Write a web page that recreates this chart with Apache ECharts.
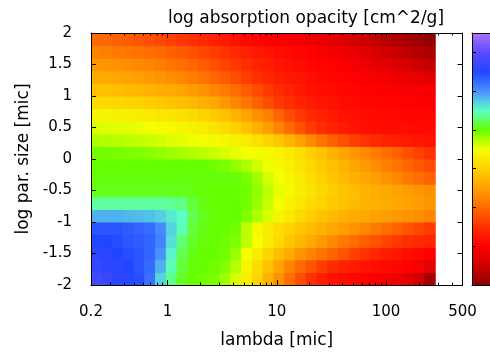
<!DOCTYPE html>
<html><head><meta charset="utf-8">
<script src="https://cdn.jsdelivr.net/npm/echarts@6/dist/echarts.min.js"></script>
<style>html,body{margin:0;padding:0;background:#fff}#c{width:490px;height:354px}</style>
</head><body><div id="c"></div>
<script>
// wavelength bin edges [mic] (log-spaced model grid)
const lambdaEdges = [0.2, 0.2508, 0.3146, 0.3946, 0.4949, 0.6207, 0.7785, 0.9765, 1.2246, 1.536, 1.9264, 2.416, 3.03, 3.8, 4.766, 5.978, 7.5, 9.408, 11.8, 14.8, 18.56, 23.28, 29.2, 36.62, 45.93, 57.61, 72.25, 90.63, 113.7, 142.6, 178.8, 224.3, 281.3];
// log particle size bin edges [mic]
const sizeEdges = [-2, -1.8, -1.6, -1.4, -1.2, -1, -0.8, -0.6, -0.4, -0.2, 0, 0.2, 0.4, 0.6, 0.8, 1, 1.2, 1.4, 1.6, 1.8, 2];
// log absorption opacity [cm^2/g], rows from smallest to largest size
const opacity = [
  [4.8, 4.7, 4.6, 4.55, 4.45, 4.2, 3.7, 3.35, 3.1, 3.0, 2.97, 2.93, 2.8, 2.6, 2.35, 2.05, 1.7, 1.35, 1.05, 0.75, 0.5, 0.32, 0.2, 0.12, 0.06, 0.02, -0.03, -0.1, -0.18, -0.3, -0.5, -0.8],
  [4.65, 4.6, 4.55, 4.5, 4.4, 4.25, 3.85, 3.45, 3.15, 3.02, 3.0, 2.97, 2.9, 2.72, 2.4, 2.15, 1.85, 1.55, 1.25, 1.0, 0.8, 0.6, 0.45, 0.35, 0.27, 0.2, 0.15, 0.1, 0.05, 0.0, -0.1, -0.3],
  [4.6, 4.55, 4.5, 4.45, 4.4, 4.3, 4.0, 3.55, 3.2, 3.05, 3.0, 3.0, 2.95, 2.82, 2.5, 2.3, 2.05, 1.8, 1.6, 1.4, 1.25, 1.1, 0.95, 0.8, 0.65, 0.52, 0.4, 0.3, 0.22, 0.15, 0.08, 0.0],
  [4.5, 4.5, 4.45, 4.4, 4.35, 4.3, 4.1, 3.65, 3.3, 3.1, 3.02, 3.0, 2.97, 2.92, 2.7, 2.5, 2.3, 2.1, 1.9, 1.75, 1.6, 1.45, 1.3, 1.15, 1.02, 0.9, 0.8, 0.68, 0.58, 0.5, 0.45, 0.4],
  [4.4, 4.4, 4.4, 4.35, 4.3, 4.25, 4.05, 3.7, 3.45, 3.15, 3.05, 3.0, 3.0, 2.95, 2.7, 2.45, 2.3, 2.15, 2.02, 1.9, 1.78, 1.68, 1.57, 1.48, 1.38, 1.27, 1.15, 1.05, 0.93, 0.8, 0.7, 0.6],
  [3.85, 3.85, 3.85, 3.82, 3.8, 3.78, 3.72, 3.6, 3.5, 3.2, 3.07, 3.02, 3.0, 3.0, 2.92, 2.75, 2.6, 2.4, 2.25, 2.1, 1.97, 1.87, 1.78, 1.7, 1.64, 1.58, 1.52, 1.48, 1.43, 1.38, 1.32, 1.25],
  [3.4, 3.4, 3.4, 3.4, 3.4, 3.4, 3.4, 3.37, 3.32, 3.15, 3.05, 3.0, 3.0, 3.0, 2.95, 2.82, 2.67, 2.5, 2.37, 2.25, 2.13, 2.02, 1.93, 1.85, 1.78, 1.72, 1.67, 1.62, 1.57, 1.52, 1.47, 1.42],
  [3.07, 3.07, 3.07, 3.07, 3.07, 3.07, 3.07, 3.07, 3.07, 3.05, 3.02, 3.0, 3.0, 3.0, 2.97, 2.85, 2.7, 2.55, 2.45, 2.32, 2.2, 2.08, 1.98, 1.88, 1.8, 1.72, 1.65, 1.58, 1.52, 1.46, 1.4, 1.35],
  [3.03, 3.03, 3.03, 3.03, 3.03, 3.03, 3.03, 3.03, 3.03, 3.03, 3.03, 3.03, 3.03, 3.02, 2.93, 2.8, 2.62, 2.5, 2.4, 2.28, 2.15, 2.02, 1.9, 1.78, 1.68, 1.58, 1.48, 1.38, 1.27, 1.16, 1.05, 0.95],
  [3.0, 3.0, 3.0, 3.0, 3.0, 3.0, 3.0, 3.0, 3.0, 3.0, 3.0, 2.97, 2.93, 2.85, 2.75, 2.62, 2.52, 2.45, 2.35, 2.22, 2.08, 1.95, 1.83, 1.7, 1.57, 1.45, 1.32, 1.2, 1.08, 0.96, 0.85, 0.75],
  [2.95, 2.95, 2.94, 2.92, 2.9, 2.87, 2.84, 2.8, 2.77, 2.73, 2.7, 2.65, 2.6, 2.55, 2.5, 2.47, 2.43, 2.38, 2.28, 2.15, 2.0, 1.85, 1.7, 1.55, 1.42, 1.3, 1.17, 1.05, 0.92, 0.78, 0.65, 0.52],
  [2.75, 2.73, 2.72, 2.7, 2.68, 2.65, 2.62, 2.58, 2.55, 2.52, 2.48, 2.45, 2.4, 2.35, 2.28, 2.18, 2.05, 1.9, 1.72, 1.52, 1.3, 1.1, 0.92, 0.77, 0.63, 0.52, 0.43, 0.36, 0.3, 0.26, 0.23, 0.2],
  [2.6, 2.58, 2.57, 2.55, 2.53, 2.5, 2.47, 2.43, 2.4, 2.35, 2.3, 2.22, 2.12, 2.0, 1.85, 1.68, 1.48, 1.25, 1.0, 0.8, 0.6, 0.45, 0.35, 0.28, 0.22, 0.18, 0.15, 0.13, 0.12, 0.11, 0.1, 0.1],
  [2.4, 2.38, 2.36, 2.34, 2.32, 2.3, 2.26, 2.22, 2.17, 2.12, 2.05, 1.95, 1.85, 1.72, 1.55, 1.35, 1.2, 0.95, 0.75, 0.58, 0.45, 0.35, 0.27, 0.21, 0.17, 0.13, 0.1, 0.08, 0.07, 0.06, 0.05, 0.05],
  [2.12, 2.1, 2.07, 2.04, 2.01, 1.97, 1.93, 1.88, 1.82, 1.75, 1.68, 1.58, 1.42, 1.25, 1.1, 0.92, 0.75, 0.58, 0.47, 0.37, 0.29, 0.22, 0.17, 0.13, 0.1, 0.07, 0.05, 0.03, 0.02, 0.01, 0.0, 0.0],
  [1.85, 1.83, 1.8, 1.77, 1.74, 1.7, 1.65, 1.6, 1.53, 1.45, 1.37, 1.27, 1.15, 1.02, 0.88, 0.73, 0.58, 0.45, 0.35, 0.27, 0.2, 0.15, 0.11, 0.07, 0.04, 0.01, -0.02, -0.04, -0.06, -0.08, -0.1, -0.12],
  [1.62, 1.6, 1.57, 1.54, 1.5, 1.45, 1.4, 1.34, 1.27, 1.18, 1.08, 0.97, 0.86, 0.74, 0.62, 0.5, 0.4, 0.32, 0.25, 0.19, 0.14, 0.1, 0.06, 0.03, 0.0, -0.04, -0.08, -0.12, -0.17, -0.22, -0.27, -0.32],
  [1.42, 1.4, 1.37, 1.33, 1.29, 1.24, 1.18, 1.12, 1.04, 0.96, 0.87, 0.77, 0.67, 0.57, 0.47, 0.38, 0.3, 0.23, 0.17, 0.12, 0.07, 0.03, -0.01, -0.06, -0.11, -0.17, -0.24, -0.31, -0.38, -0.45, -0.52, -0.58],
  [1.22, 1.19, 1.16, 1.12, 1.08, 1.03, 0.98, 0.92, 0.85, 0.77, 0.69, 0.6, 0.51, 0.42, 0.34, 0.26, 0.2, 0.14, 0.09, 0.04, -0.01, -0.06, -0.12, -0.18, -0.25, -0.32, -0.4, -0.48, -0.56, -0.63, -0.7, -0.76],
  [1.0, 0.97, 0.93, 0.88, 0.82, 0.76, 0.7, 0.64, 0.57, 0.5, 0.43, 0.35, 0.27, 0.18, 0.1, 0.04, 0.0, -0.03, -0.07, -0.12, -0.18, -0.24, -0.3, -0.37, -0.45, -0.52, -0.6, -0.68, -0.75, -0.82, -0.88, -0.94]
];
const xLabelTicks = [0.2, 1, 10, 100, 500];
const xMajorTicks = [1, 10, 100];
const xMinorTicks = [0.3, 0.4, 0.5, 0.6, 0.7, 0.8, 0.9, 2, 3, 4, 5, 6, 7, 8, 9, 20, 30, 40, 50, 60, 70, 80, 90, 200, 300, 400];
const titleText = 'log absorption opacity [cm^2/g]';
const xName = 'lambda [mic]';
const yName = 'log par. size [mic]';
const cbMin = -1, cbMax = 5.5;
const palette = ['#8b0000', '#d00000', '#ff0000', '#ff3000', '#ff6a00', '#ffa000', '#ffd000', '#f4ff00', '#66ff00', '#5cffc8', '#4a90ff', '#2246ff', '#5a4cff', '#b070ff'];

const cells = [];
for (let r = 0; r < opacity.length; r++) {
  for (let c = 0; c < opacity[r].length; c++) {
    cells.push([lambdaEdges[c], lambdaEdges[c + 1], sizeEdges[r], sizeEdges[r + 1], opacity[r][c]]);
  }
}
const FONT = 'DejaVu Sans';
const black = '#000';
function xAxisBase(pos, ticks, len, showLine) {
  return {
    gridIndex: 0, type: 'log', min: 0.2, max: 500, position: pos, z: 10,
    axisLine: {show: showLine, onZero: false, lineStyle: {color: black, width: 1}},
    axisTick: {show: true, inside: true, length: len, customValues: ticks, lineStyle: {color: black, width: 1}},
    axisLabel: {show: false},
    splitLine: {show: false}, minorTick: {show: false}
  };
}
const xMain = xAxisBase('bottom', xMajorTicks, 5, true);
xMain.axisLabel = {
  show: true, customValues: xLabelTicks, margin: 20, fontSize: 15, color: black, fontFamily: FONT,
  formatter: v => String(+Number(v).toPrecision(3))
};
xMain.name = xName; xMain.nameLocation = 'middle'; xMain.nameGap = 47;
xMain.nameTextStyle = {fontSize: 17, color: black, fontFamily: FONT};

function cbX(pos) {
  return {gridIndex: 1, type: 'value', min: 0, max: 1, position: pos, z: 10,
    axisLine: {show: true, onZero: false, lineStyle: {color: black}},
    axisTick: {show: false}, axisLabel: {show: false}, splitLine: {show: false}};
}

const chart = echarts.init(document.getElementById('c'), null, {renderer: 'canvas'});
chart.setOption({
  backgroundColor: '#fff',
  animation: false,
  textStyle: {fontFamily: FONT},
  title: {
    text: titleText, left: 306, top: 10, textAlign: 'center', padding: 0,
    textStyle: {fontSize: 17, fontWeight: 'normal', color: black, fontFamily: FONT}
  },
  grid: [
    {left: 91, right: 27.5, top: 33, bottom: 69, containLabel: false},
    {left: 472, width: 22, top: 33, bottom: 69, containLabel: false}
  ],
  xAxis: [
    xMain,
    xAxisBase('bottom', xMinorTicks, 2.5, false),
    xAxisBase('top', xMajorTicks, 5, true),
    xAxisBase('top', xMinorTicks, 2.5, false),
    cbX('bottom'),
    cbX('top')
  ],
  yAxis: [
    {gridIndex: 0, type: 'value', min: -2, max: 2, interval: 0.5, position: 'left', z: 10,
     axisLine: {show: true, onZero: false, lineStyle: {color: black}},
     axisTick: {show: true, inside: true, length: 5, lineStyle: {color: black}},
     axisLabel: {show: true, margin: 19, fontSize: 15, color: black, fontFamily: FONT},
     splitLine: {show: false},
     name: yName, nameLocation: 'middle', nameGap: 55, nameRotate: 90,
     nameTextStyle: {fontSize: 17, color: black, fontFamily: FONT}},
    {gridIndex: 0, type: 'value', min: -2, max: 2, interval: 0.5, position: 'right', z: 10,
     axisLine: {show: true, onZero: false, lineStyle: {color: black}},
     axisTick: {show: true, inside: true, length: 5, lineStyle: {color: black}},
     axisLabel: {show: false}, splitLine: {show: false}},
    {gridIndex: 1, type: 'value', min: cbMin, max: cbMax, interval: 1, position: 'left', z: 10,
     axisLine: {show: true, onZero: false, lineStyle: {color: black}},
     axisTick: {show: true, inside: true, length: 4, lineStyle: {color: black}},
     axisLabel: {show: false}, splitLine: {show: false}}
  ],
  visualMap: {
    type: 'continuous', min: cbMin, max: cbMax, dimension: 4, seriesIndex: 0,
    left: 472, top: 33, itemWidth: 22, itemHeight: 252, padding: 0,
    calculable: false, text: null, showLabel: false, orient: 'vertical',
    inRange: {color: palette}
  },
  series: [{
    type: 'custom', xAxisIndex: 0, yAxisIndex: 0, clip: true, z: 2,
    encode: {x: [0, 1], y: [2, 3]},
    data: cells,
    renderItem: function (params, api) {
      const p0 = api.coord([api.value(0), api.value(2)]);
      const p1 = api.coord([api.value(1), api.value(3)]);
      const col = api.visual('color');
      return {
        type: 'rect',
        shape: {x: p0[0], y: p1[1], width: p1[0] - p0[0], height: p0[1] - p1[1]},
        style: {fill: col, stroke: col, lineWidth: 1}
      };
    }
  }]
});
</script></body></html>
